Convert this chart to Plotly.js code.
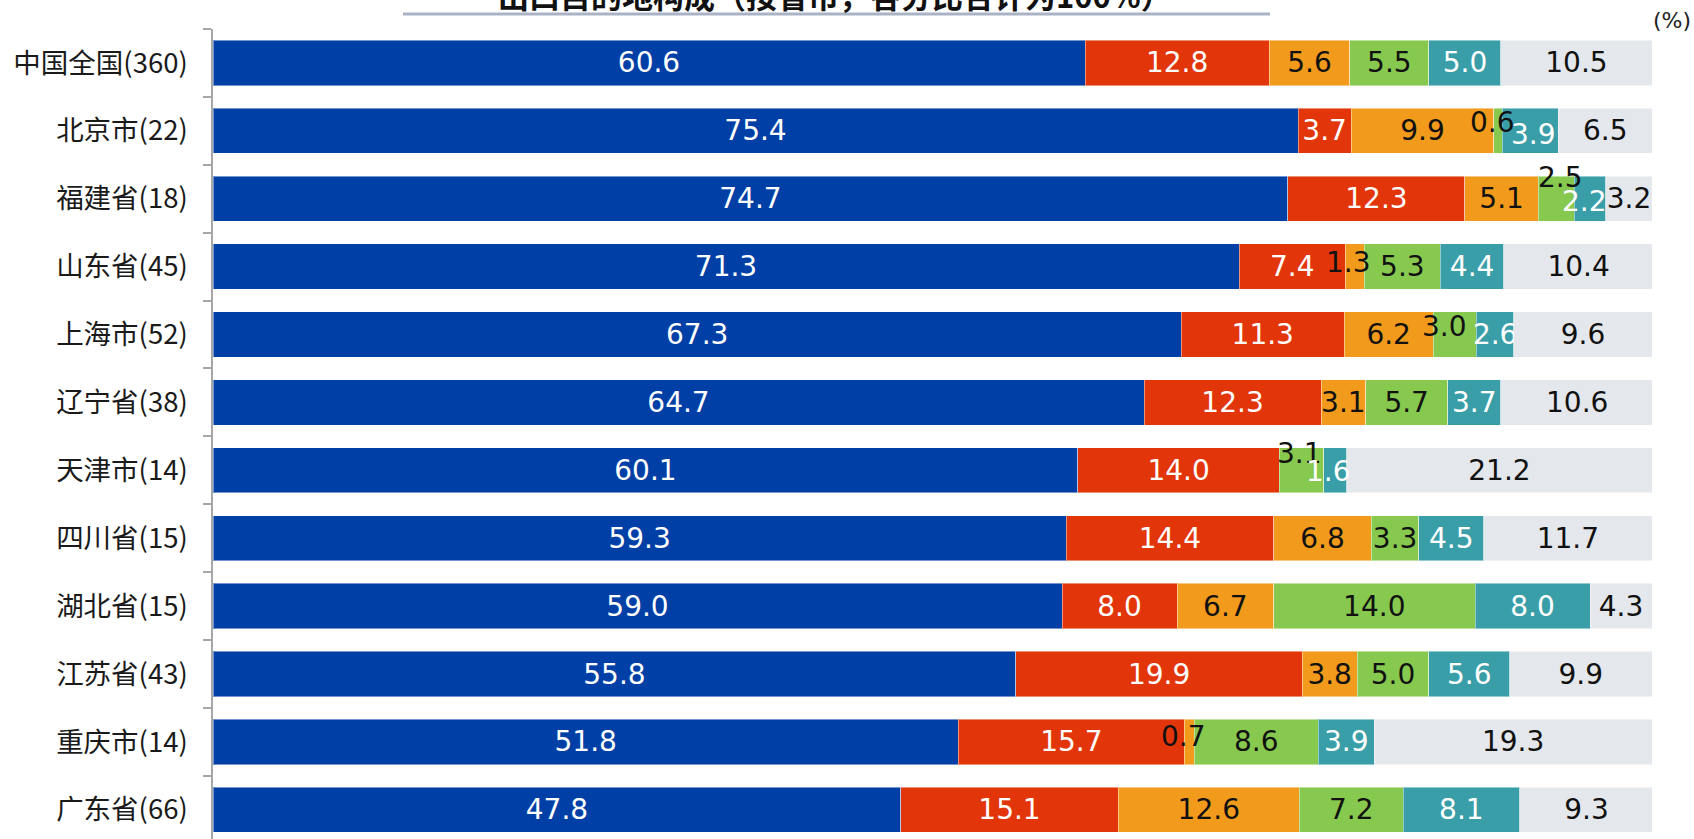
<!DOCTYPE html>
<html>
<head>
<meta charset="utf-8">
<script src="https://cdn.plot.ly/plotly-3.0.1.min.js"></script>
<style>
  html, body { margin: 0; padding: 0; background: #fff; }
  #chart { width: 1694px; height: 839px; }
</style>
</head>
<body>
<div id="chart"></div>
<script>
// ---- data ----
const categories = ['中国全国(360)', '北京市(22)', '福建省(18)', '山东省(45)', '上海市(52)', '辽宁省(38)',
                    '天津市(14)', '四川省(15)', '湖北省(15)', '江苏省(43)', '重庆市(14)', '广东省(66)'];
const seriesNames = ['系列1', '系列2', '系列3', '系列4', '系列5', '系列6'];
const series1 = [60.6, 75.4, 74.7, 71.3, 67.3, 64.7, 60.1, 59.3, 59.0, 55.8, 51.8, 47.8];
const series2 = [12.8, 3.7, 12.3, 7.4, 11.3, 12.3, 14.0, 14.4, 8.0, 19.9, 15.7, 15.1];
const series3 = [5.6, 9.9, 5.1, 1.3, 6.2, 3.1, 0, 6.8, 6.7, 3.8, 0.7, 12.6];
const series4 = [5.5, 0.6, 2.5, 5.3, 3.0, 5.7, 3.1, 3.3, 14.0, 5.0, 8.6, 7.2];
const series5 = [5.0, 3.9, 2.2, 4.4, 2.6, 3.7, 1.6, 4.5, 8.0, 5.6, 3.9, 8.1];
const series6 = [10.5, 6.5, 3.2, 10.4, 9.6, 10.6, 21.2, 11.7, 4.3, 9.9, 19.3, 9.3];
const titleText = '出口目的地构成（按省市，各分比合计为100%）';
const unitText = '(%)';

// ---- styles ----
const allSeries = [series1, series2, series3, series4, series5, series6];
const colors = ['#003FA6', '#E2350A', '#F29A1C', '#87C94F', '#3A9EA9', '#E4E7EB'];
const textColors = ['#ffffff', '#ffffff', '#111111', '#111111', '#ffffff', '#111111'];
const labelFont = 'DejaVu Sans, Verdana, sans-serif';
const labelSize = 28;
// labels that were manually nudged in the original (row-series : [dx, dy] px)
const labelOffsets = {
  '1-3': [-6, -8], '1-4': [3, 4],
  '2-3': [4, -21], '2-4': [-6, 3],
  '3-2': [-6, -4],
  '4-3': [-10, -8],
  '6-3': [-2, -17], '6-4': [-7, 1],
  '10-2': [-6, -5]
};

const traces = [];
const annotations = [];
const cum = categories.map(() => 0);
allSeries.forEach((vals, s) => {
  const texts = vals.map((v, r) => {
    const key = r + '-' + s;
    if (v === 0) return '';
    if (labelOffsets[key]) {
      const [dx, dy] = labelOffsets[key];
      annotations.push({
        x: cum[r] + v / 2, y: categories[r], xref: 'x', yref: 'y',
        text: v.toFixed(1), showarrow: false, xanchor: 'center', yanchor: 'middle',
        xshift: dx, yshift: -dy,
        font: { family: labelFont, size: labelSize, color: textColors[s] }
      });
      return '';
    }
    return v.toFixed(1);
  });
  vals.forEach((v, r) => { cum[r] += v; });
  traces.push({
    type: 'bar', orientation: 'h', name: seriesNames[s],
    y: categories, x: vals,
    text: texts, textposition: 'inside', insidetextanchor: 'middle', textangle: 0,
    constraintext: 'none',
    textfont: { family: labelFont, size: labelSize, color: textColors[s] },
    marker: { color: colors[s], line: { color: 'rgba(255,255,255,0.45)', width: 1 } },
    hoverinfo: 'x+y+name'
  });
});

annotations.push({
  xref: 'paper', yref: 'paper', x: 0.432, y: 1.043, xanchor: 'center', yanchor: 'middle',
  text: '<b>' + titleText + '</b>', showarrow: false,
  font: { family: 'Noto Sans CJK SC, sans-serif', size: 31, color: '#111111' }
});
annotations.push({
  xref: 'paper', yref: 'paper', x: 1.0, y: 1.01, xanchor: 'left', yanchor: 'middle', xshift: -1,
  text: unitText, showarrow: false,
  font: { family: 'DejaVu Sans, sans-serif', size: 22, color: '#222222' }
});

const layout = {
  width: 1694, height: 839,
  margin: { l: 213, r: 42, t: 29, b: 0, pad: 0 },
  barmode: 'stack', bargap: 0.333,
  showlegend: false,
  paper_bgcolor: '#ffffff', plot_bgcolor: '#ffffff',
  uniformtext: { mode: 'show', minsize: labelSize },
  xaxis: { range: [0, 100], visible: false, fixedrange: true },
  yaxis: {
    type: 'category', range: [11.43, -0.5], autorange: false,
    showline: true, linecolor: '#A6A6A6', linewidth: 1.5,
    ticks: 'outside', tickson: 'boundaries', ticklen: 8, tickcolor: '#A6A6A6', tickwidth: 1.5,
    ticklabelstandoff: 18,
    showgrid: false, zeroline: false,
    tickfont: { family: 'Noto Sans CJK SC, sans-serif', size: 27.5, color: '#1a1a1a' }
  },
  shapes: [{
    type: 'line', xref: 'paper', yref: 'paper',
    x0: (403 - 213) / 1439, x1: (1270 - 213) / 1439,
    y0: 1 + (29 - 14) / 810, y1: 1 + (29 - 14) / 810,
    line: { color: '#A9B3C5', width: 3 }
  }],
  annotations: annotations
};

Plotly.newPlot('chart', traces, layout, { displayModeBar: false, staticPlot: false });
</script>
</body>
</html>
